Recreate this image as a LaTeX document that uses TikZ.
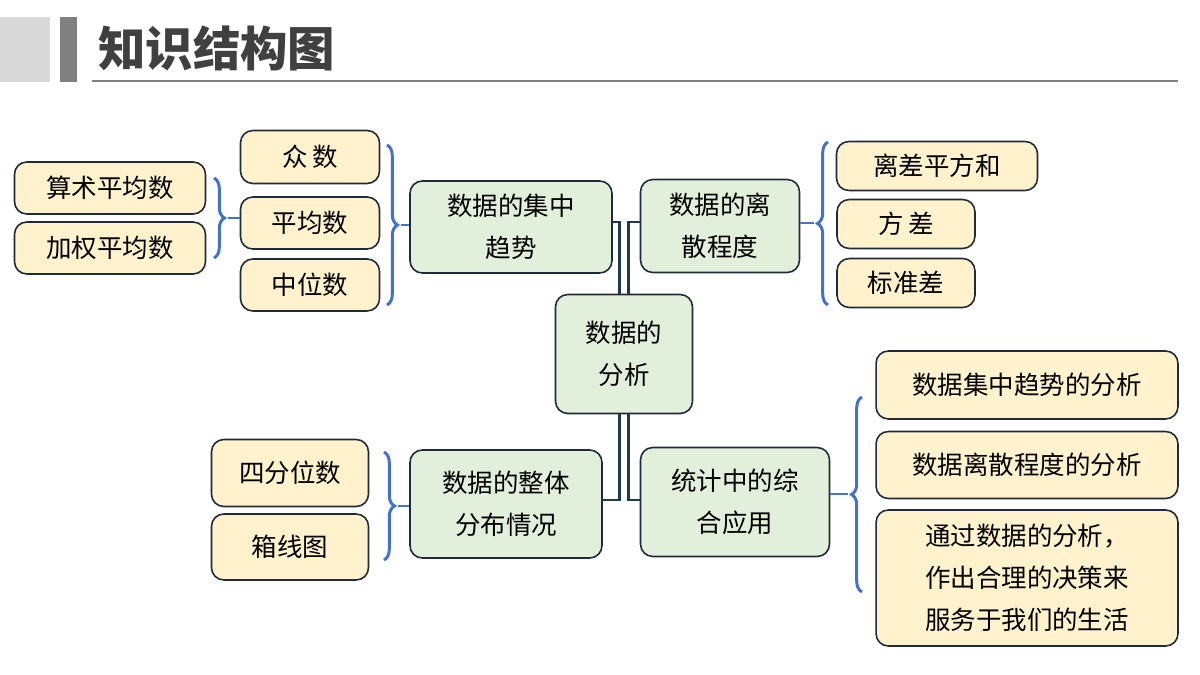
\documentclass[tikz,border=0pt]{standalone}
\usepackage{fontspec}
\setmainfont{Noto Sans CJK SC}
\usetikzlibrary{calc,decorations.pathreplacing}
\definecolor{yel}{HTML}{FFF2CC}
\definecolor{grn}{HTML}{E2EFDA}
\definecolor{brc}{HTML}{4472C4}
\definecolor{lnk}{HTML}{203A4C}
\definecolor{edge}{HTML}{1F2A3A}

\begin{document}
\begin{tikzpicture}[x=0.02cm,y=-0.02cm,
  box/.style={draw=edge,line width=0.9pt,rounded corners=7pt,inner sep=0pt,align=center,font=\fontsize{14.5}{24}\selectfont},
  leaf/.style={box,fill=yel},
  topic/.style={box,fill=grn},
  br/.style={draw=brc,line width=1.7pt,decorate,decoration={brace,amplitude=6pt}},
  stem/.style={draw=brc,line width=1.7pt},
  link/.style={draw=lnk,line width=1.6pt}]
  \useasboundingbox (0,0) rectangle (1200,675);
  % header
  \fill[gray!30] (0,17) rectangle (50,82);
  \fill[gray] (60,17) rectangle (77,82);
  \node[anchor=west,text=black!75,font=\fontsize{27}{30}\selectfont\bfseries] (title) at (92,48) {知识结构图};
  \draw[gray,line width=0.8pt] (92,81) -- (1178,81);

  \node[topic,minimum width=2.74cm,minimum height=2.38cm] (c) at (624,354) {数据的\\分析};
  \node[topic,minimum width=4.04cm,minimum height=1.84cm] (t1) at (511,227) {数据的集中\\趋势};
  \node[topic,minimum width=3.18cm,minimum height=1.86cm] (t2) at (720,226) {数据的离\\散程度};
  \node[topic,minimum width=3.84cm,minimum height=2.16cm] (t3) at (506,504) {数据的整体\\分布情况};
  \node[topic,minimum width=3.78cm,minimum height=2.18cm] (t4) at (735,502) {统计中的综\\合应用};

  \node[leaf,minimum width=2.78cm,minimum height=1.06cm] (zs) at (310,157) {众\,数};
  \node[leaf,minimum width=2.78cm,minimum height=1.04cm] (pj) at (310,223) {平均数};
  \node[leaf,minimum width=2.78cm,minimum height=1.04cm] (zw) at (310,285) {中位数};
  \node[leaf,minimum width=3.82cm,minimum height=1.04cm] (ss) at (110,188) {算术平均数};
  \node[leaf,minimum width=3.82cm,minimum height=1.04cm] (jq) at (110,248) {加权平均数};
  \node[leaf,minimum width=4.02cm,minimum height=0.98cm] (lc) at (937,166) {离差平方和};
  \node[leaf,minimum width=2.76cm,minimum height=0.98cm] (fc) at (906,224) {方\,差};
  \node[leaf,minimum width=2.76cm,minimum height=0.98cm] (bz) at (906,283) {标准差};
  \node[leaf,minimum width=3.14cm,minimum height=1.34cm] (sf) at (290,473) {四分位数};
  \node[leaf,minimum width=3.14cm,minimum height=1.32cm] (xx) at (290,547) {箱线图};
  \node[leaf,minimum width=6.04cm,minimum height=1.36cm] (a1) at (1027,385) {数据集中趋势的分析};
  \node[leaf,minimum width=6.04cm,minimum height=1.34cm] (a2) at (1027,465) {数据离散程度的分析};
  \node[leaf,minimum width=6.04cm,minimum height=2.72cm,align=left] (a3) at (1027,578) {通过数据的分析，\\作出合理的决策来\\服务于我们的生活};

  % connectors from the centre
  \draw[link] ($(c.north)+(-4.5,0)$) |- ($(t1.east)+(0,-5)$);
  \draw[link] ($(c.north)+(4.5,0)$) |- ($(t2.west)+(0,-4)$);
  \draw[link] ($(c.south)+(-4.5,0)$) |- ($(t3.east)+(0,-4)$);
  \draw[link] ($(c.south)+(4.5,0)$) |- ($(t4.west)+(0,-2)$);

  % braces
  \draw[br] (214,178) -- (214,258);
  \draw[stem] (228,218) -- (pj.west |- 0,218);
  \draw[br] (387,145) -- (387,305);
  \draw[stem] (401,225) -- (t1.west |- 0,225);
  \draw[br] (828,305) -- (828,142);
  \draw[stem] (814,223) -- (t2.east |- 0,223);
  \draw[br] (384,452) -- (384,560);
  \draw[stem] (398,506) -- (t3.west |- 0,506);
  \draw[br] (862,592) -- (862,397);
  \draw[stem] (848,494) -- (t4.east |- 0,494);
\end{tikzpicture}
\end{document}
